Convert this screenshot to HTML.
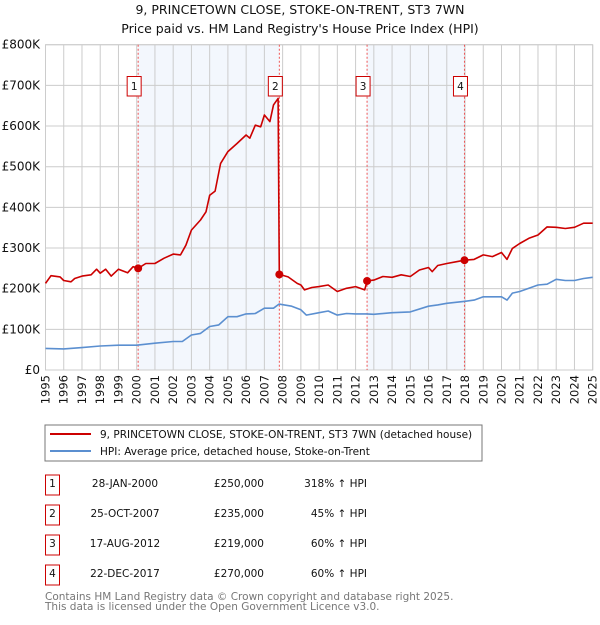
<!DOCTYPE html>
<html><head><meta charset="utf-8"><style>
body{margin:0;background:#fff;font-family:"Liberation Sans","DejaVu Sans",sans-serif;}
svg text{font-family:"DejaVu Sans","Liberation Sans",sans-serif;}
</style></head><body>
<svg id="c" width="600" height="620" xmlns="http://www.w3.org/2000/svg">
<text x="300" y="14" text-anchor="middle" font-size="12.5" fill="#111">9, PRINCETOWN CLOSE, STOKE-ON-TRENT, ST3 7WN</text>
<text x="300" y="33" text-anchor="middle" font-size="12.5" fill="#111">Price paid vs. HM Land Registry's House Price Index (HPI)</text>
<g id="plot"></g>
<rect x="45" y="425" width="437" height="36" fill="#fff" stroke="#777"/>
<line x1="50" y1="434" x2="91" y2="434" stroke="#cc0000" stroke-width="2"/>
<text x="100" y="438" font-size="10.5" fill="#111">9, PRINCETOWN CLOSE, STOKE-ON-TRENT, ST3 7WN (detached house)</text>
<line x1="50" y1="451" x2="91" y2="451" stroke="#5b8fd0" stroke-width="2"/>
<text x="100" y="455" font-size="10.5" fill="#111">HPI: Average price, detached house, Stoke-on-Trent</text>
<g id="tbl" font-size="10.5" fill="#111"></g>
<text x="45" y="600" font-size="10.5" fill="#777">Contains HM Land Registry data © Crown copyright and database right 2025.</text>
<text x="45" y="610" font-size="10.5" fill="#777">This data is licensed under the Open Government Licence v3.0.</text>
</svg>
<script>
const hpiYears=[1995,1996,1997,1998,1999,2000,2001,2002,2002.5,2003,2003.5,2004,2004.5,2005,2005.5,2006,2006.5,2007,2007.5,2007.8,2008.5,2009,2009.3,2010,2010.5,2011,2011.5,2012,2012.6,2013,2014,2015,2016,2016.5,2017,2018,2018.5,2019,2019.5,2020,2020.3,2020.6,2021,2021.5,2022,2022.5,2023,2023.5,2024,2024.5,2025];
const hpiValues=[53,52,55,59,61,61,66,70,70,86,90,107,111,131,131,138,139,152,152,162,157,148,135,141,145,135,139,138,138,137,141,143,157,160,164,169,172,180,180,180,172,189,193,201,209,211,223,220,220,225,228];
const priceYears=[1995,1995.3,1995.8,1996,1996.4,1996.6,1997,1997.5,1997.8,1998,1998.3,1998.6,1999,1999.5,1999.8,2000.08,2000.5,2001,2001.5,2002,2002.4,2002.7,2003,2003.5,2003.8,2004,2004.3,2004.6,2005,2005.5,2006,2006.2,2006.5,2006.8,2007,2007.3,2007.5,2007.75,2007.82,2008.3,2008.8,2009,2009.2,2009.6,2010,2010.5,2011,2011.5,2012,2012.5,2012.63,2013,2013.5,2014,2014.5,2015,2015.5,2016,2016.2,2016.5,2017,2017.5,2017.97,2018.5,2019,2019.5,2020,2020.3,2020.6,2021,2021.5,2022,2022.5,2023,2023.5,2024,2024.5,2025];
const priceValues=[213,232,229,220,217,225,231,234,248,238,248,231,248,239,254,250,262,262,275,285,283,307,344,369,389,430,440,508,537,557,578,570,602,598,627,611,652,668,235,229,213,209,197,203,205,209,193,201,205,197,219,221,230,228,234,230,246,252,242,257,262,266,270,272,283,279,289,272,299,311,324,332,352,351,348,351,361,361];
const saleLabels=["1","2","3","4"];
const saleYears=[2000.08,2007.82,2012.63,2017.97];
const saleValues=[250,235,219,270];
const saleDates=["28-JAN-2000","25-OCT-2007","17-AUG-2012","22-DEC-2017"];
const salePrices=["£250,000","£235,000","£219,000","£270,000"];
const saleHpi=["318% ↑ HPI","45% ↑ HPI","60% ↑ HPI","60% ↑ HPI"];
const yTicks=[0,100,200,300,400,500,600,700,800];
const yTickLabels=["£0","£100K","£200K","£300K","£400K","£500K","£600K","£700K","£800K"];
const xTicks=[1995,1996,1997,1998,1999,2000,2001,2002,2003,2004,2005,2006,2007,2008,2009,2010,2011,2012,2013,2014,2015,2016,2017,2018,2019,2020,2021,2022,2023,2024,2025];

const L=45.5,R=592.7,T=44.7,B=370;
const xs=y=>L+(y-1995)/30*(R-L);
const ys=v=>B-v/800*(B-T);
const NS="http://www.w3.org/2000/svg";
const g=document.getElementById('plot');
function mk(t,a,p){const e=document.createElementNS(NS,t);for(const k in a)e.setAttribute(k,a[k]);(p||g).appendChild(e);return e;}
for(let i=0;i<4;i+=2){
  const r=mk('rect',{x:xs(saleYears[i]),y:T,width:xs(saleYears[i+1])-xs(saleYears[i]),height:B-T,fill:'#eef3fc',opacity:0.7});
  
  
}
yTicks.forEach((v,i)=>{
  mk('line',{x1:L,x2:R,y1:ys(v),y2:ys(v),stroke:'#ccc'});
  const t=mk('text',{x:40,y:ys(v)+4,'text-anchor':'end','font-size':'12',fill:'#111'});
  t.textContent=yTickLabels[i];
  
  
});
xTicks.forEach(y=>{
  mk('line',{x1:xs(y),x2:xs(y),y1:T,y2:B,stroke:'#ccc'});
  const t=mk('text',{x:0,y:0,'font-size':'11.5',fill:'#111','text-anchor':'end',transform:`translate(${xs(y)+4},${B+5}) rotate(-90)`});
  t.textContent=y;
  
  
});
mk('rect',{x:L,y:T,width:R-L,height:B-T,fill:'none',stroke:'#ccc'});
saleYears.forEach((y,i)=>{
  const l=mk('line',{x1:xs(y),x2:xs(y),y1:T,y2:B,stroke:'#e55','stroke-dasharray':'2,2','stroke-width':1});
  
  
});
function path(xa,va,col,name){
  const d=xa.map((x,i)=>(i?'L':'M')+xs(x).toFixed(1)+','+ys(va[i]).toFixed(1)).join('');
  const p=mk('path',{d:d,fill:'none',stroke:col,'stroke-width':1.6,'stroke-linejoin':'round'});
  
  
}
path(hpiYears,hpiValues,'#5b8fd0','hpi-line');
path(priceYears,priceValues,'#cc0000','price-line');
saleYears.forEach((y,i)=>{
  const c=mk('circle',{cx:xs(y),cy:ys(saleValues[i]),r:4,fill:'#cc0000'});
  
  
  const bx=xs(y)-4;
  const r=mk('rect',{x:bx-7,y:76.5,width:14,height:19.5,fill:'#fff',stroke:'#cc0000'});
  
  
  const t=mk('text',{x:bx,y:90,'text-anchor':'middle','font-size':'10.5',fill:'#111'});
  t.textContent=saleLabels[i];
});
const tb=document.getElementById('tbl');
saleLabels.forEach((s,i)=>{
  const y=492+i*30;
  const r=mk('rect',{x:45.5,y:y-17,width:14,height:20,fill:'#fff',stroke:'#cc0000'},tb);
  
  
  const a=mk('text',{x:52.5,y:y-5,'text-anchor':'middle'},tb);a.textContent=s;
  const d=mk('text',{x:125,y:y-5,'text-anchor':'middle'},tb);d.textContent=saleDates[i];
  
  
  const p=mk('text',{x:264,y:y-5,'text-anchor':'end'},tb);p.textContent=salePrices[i];
  
  
  const h=mk('text',{x:367,y:y-5,'text-anchor':'end'},tb);h.textContent=saleHpi[i];
  
  
});
</script>
</body></html>
